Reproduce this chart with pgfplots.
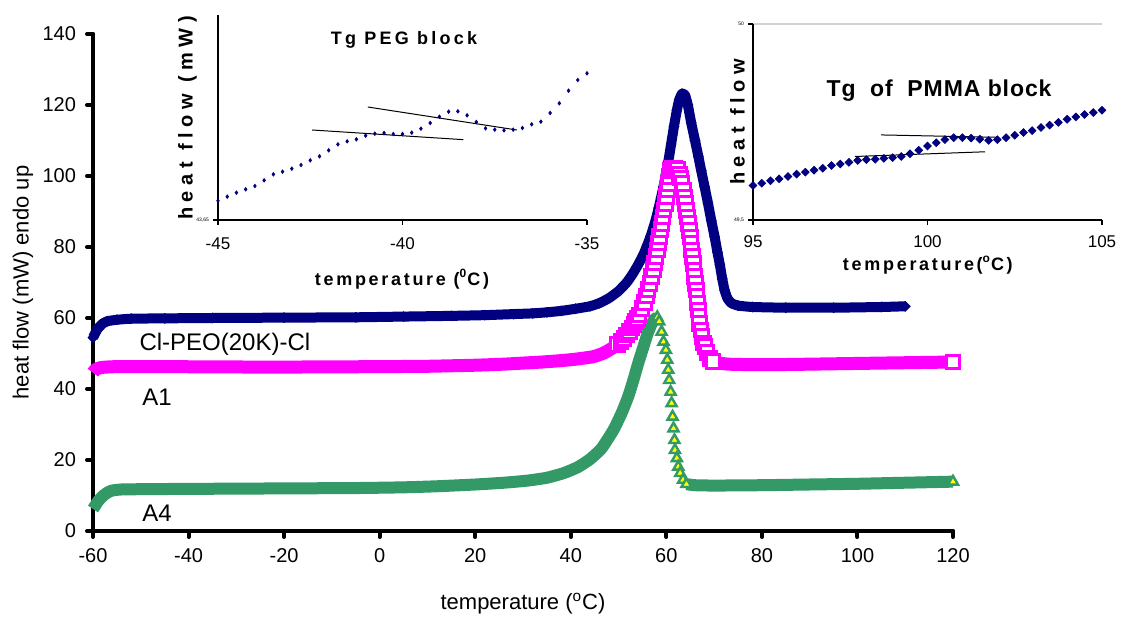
\documentclass[border=0pt]{standalone}
\usepackage{pgfplots}
\pgfplotsset{compat=1.18}
\usepackage{pgfplotstable}
\usepackage{fontspec}
\setmainfont{Liberation Sans}
\newfontfamily\spA[LetterSpace=15]{Liberation Sans}
\newfontfamily\spB[LetterSpace=28]{Liberation Sans}
\newfontfamily\spC[LetterSpace=4]{Liberation Sans}
\newfontfamily\spD[LetterSpace=18]{Liberation Sans}

\definecolor{navyc}{RGB}{0,0,128}
\definecolor{pinkc}{RGB}{255,0,255}
\definecolor{greenc}{RGB}{51,153,102}
\definecolor{yellowc}{RGB}{255,255,0}

% Cl-PEO(20K)-Cl
\pgfplotstableread{
x y
-60 54.5
-59.5 55.8
-59 57.0
-58 58.4
-57 59.1
-55 59.5
-52 59.8
-45 59.9
-35 60.0
-20 60.1
-5 60.2
5 60.4
15 60.6
22 60.8
28 61.1
32 61.3
35 61.6
38 62.0
41 62.6
44 63.3
46 64.2
48 65.6
50 67.6
51.7 70.0
52.8 72.1
53.8 74.3
54.6 76.3
55.3 78.2
56.0 80.5
56.7 83
57.3 85.5
57.9 88.3
58.4 91
58.9 94
59.4 97
59.9 100.5
60.4 104
61.0 109
61.6 114
62.2 118.5
62.7 121.5
63.3 123.2
63.9 122.8
64.5 120
65.2 115
66 110
66.7 105.5
67.3 101.5
68 97
68.7 92.4
69.4 87.5
70.1 82.9
70.7 78.5
71.2 75
71.7 71
72.2 67.8
72.8 65.5
73.6 64.2
75 63.5
78 63.1
85 62.9
95 62.9
105 63.1
110 63.3
}\navyT

% A1
\pgfplotstableread{
x y
-60 44.6
-59.6 45.3
-59 45.8
-58 46.1
-55 46.3
-45 46.3
-30 46.2
-15 46.2
0 46.3
10 46.4
20 46.7
26 47.0
30 47.3
34 47.6
38 48.0
41 48.4
44.7 49.1
47 50.2
48.9 51.7
50.5 53.3
51.7 55.2
52.8 57.2
}\pinkL
\pgfplotstableread{
x y
49.8 52.5
50.5 53.3
51.1 54.2
51.7 55.2
52.3 56.2
52.8 57.2
53.2 58.1
53.6 59.0
54.0 59.9
54.3 60.8
54.9 62.6
55.4 64.4
55.8 66.2
56.2 68.0
56.6 69.8
56.95 71.7
57.25 73.6
57.55 75.5
57.8 77.4
58.1 79.2
58.35 81.1
58.6 83.0
58.85 84.9
59.1 86.7
59.3 88.5
59.55 90.4
59.8 92.3
60.0 94.2
60.25 96.1
60.5 97.9
60.7 99.8
60.9 101.5
61.3 102.3
61.8 102.3
62.3 102.0
62.7 100.5
63.0 99.4
63.3 97.9
63.55 96.0
63.8 94.1
64.0 92.2
64.2 90.3
64.4 88.5
64.6 86.6
64.8 84.7
65.0 82.8
65.15 81.0
65.3 79.2
65.5 77.3
65.65 75.4
65.8 73.5
65.95 71.7
66.1 69.8
66.25 67.9
66.4 66.0
66.55 64.2
66.7 62.3
66.8 60.4
67.0 58.5
67.25 56.6
67.5 54.8
67.8 53.0
68.1 51.9
68.5 50.2
69.1 48.6
69.8 47.8
120 47.6
}\pinkP
\pgfplotstableread{
x y
69.8 47.8
71 47.3
73 47.0
76 46.9
85 46.9
95 47.1
105 47.3
115 47.5
120 47.6
}\pinkR

% A4
\pgfplotstableread{
x y
-60 6.2
-59.5 7.2
-59 8.3
-58 9.8
-57 10.8
-56 11.4
-54 11.7
-48 11.8
-35 11.9
-20 12.0
-5 12.1
5 12.3
12 12.6
20 13.1
26 13.6
31 14.2
35 15.0
38.5 16.3
41.5 18.0
44 20.2
46.4 23.2
48.9 28.4
50.6 33.1
52.0 37.8
53.1 42.5
54.1 47.2
55.2 51.9
56.0 55.3
56.8 58.0
57.5 59.6
58.1 60.2
}\greenL
\pgfplotstableread{
x y
58.1 60.2
58.5 59.0
59.0 56.1
59.4 53.3
59.9 51.0
60.2 48.2
60.4 45.4
60.6 42.5
60.9 39.2
61.1 36.0
61.3 32.2
61.5 28.9
61.7 25.6
61.8 22.8
62.2 20.5
62.5 18.1
62.9 16.3
63.5 14.4
64.2 13.2
120 13.9
}\greenP
\pgfplotstableread{
x y
64.2 13.2
66 12.9
70 12.8
80 12.9
90 13.1
100 13.3
110 13.6
120 13.9
}\greenR

% inset: Tg PEG block
\pgfplotstableread{
x y
-45.00 43.6790
-44.75 43.6850
-44.50 43.6910
-44.25 43.6960
-44.00 43.7010
-43.75 43.7095
-43.50 43.7185
-43.25 43.7225
-43.00 43.7270
-42.75 43.7325
-42.50 43.7395
-42.25 43.7455
-42.00 43.7545
-41.75 43.7635
-41.50 43.7680
-41.25 43.7710
-41.00 43.7765
-40.75 43.7795
-40.50 43.7805
-40.25 43.7790
-40.00 43.7790
-39.75 43.7810
-39.50 43.7870
-39.25 43.7955
-39.00 43.8050
-38.75 43.8125
-38.50 43.8130
-38.25 43.8070
-38.00 43.7970
-37.75 43.7875
-37.50 43.7855
-37.25 43.7845
-37.00 43.7855
-36.75 43.7880
-36.50 43.7935
-36.25 43.7975
-36.00 43.8105
-35.75 43.8250
-35.50 43.8440
-35.25 43.8600
-35.00 43.8700
}\pegT

% inset: Tg of PMMA block
\pgfplotstableread{
x y
95.00 49.588
95.25 49.594
95.50 49.600
95.75 49.605
96.00 49.611
96.25 49.617
96.50 49.622
96.75 49.627
97.00 49.632
97.25 49.639
97.50 49.643
97.75 49.647
98.00 49.652
98.25 49.654
98.50 49.655
98.75 49.657
99.00 49.659
99.25 49.662
99.50 49.669
99.75 49.678
100.00 49.689
100.25 49.697
100.50 49.705
100.75 49.710
101.00 49.710
101.25 49.709
101.50 49.706
101.75 49.703
102.00 49.705
102.25 49.710
102.50 49.716
102.75 49.723
103.00 49.728
103.25 49.736
103.50 49.742
103.75 49.749
104.00 49.757
104.25 49.763
104.50 49.769
104.75 49.774
105.00 49.780
}\pmmaT

\begin{document}
\begin{tikzpicture}
\useasboundingbox (0,0) rectangle (564pt,310.5pt);

% ---------------- main axis ----------------
\begin{axis}[
  at={(46.5pt,45pt)}, anchor=south west, scale only axis,
  width=430pt, height=248.5pt,
  xmin=-60, xmax=120, ymin=0, ymax=140,
  axis x line=bottom, axis y line=left,
  axis line style={line width=2pt, -, line cap=round},
  xtick={-60,-40,...,120}, ytick={0,20,...,140},
  tick align=outside, major tick length=3pt,
  tick style={line width=2pt, black, line cap=round},
  ticklabel style={font=\fontsize{10}{12}\selectfont},
  xticklabel style={yshift=-2pt},
  yticklabel style={xshift=-2pt},
  /pgf/number format/assume math mode=true,
  xlabel={temperature (\textsuperscript{o}C)},
  ylabel={heat flow (mW) endo up},
  label style={font=\fontsize{11}{13}\selectfont},
  xlabel style={at={(axis description cs:0.5,-0.146)}, anchor=center},
  ylabel style={at={(axis description cs:-0.0814,0.5)}, anchor=center},
  clip=false,
]
\addplot[navyc, line width=5pt, line join=round, smooth, tension=0.3,
  mark=square*, mark size=1.8pt, mark options={rotate=45, fill=navyc, draw=navyc, line width=0.3pt}]
  table {\navyT};

\addplot[pinkc, line width=6.5pt, line join=round, smooth, tension=0.3] table {\pinkL};
\addplot[pinkc, line width=6.5pt, line join=round, smooth, tension=0.3] table {\pinkR};
\addplot[only marks, mark=square*, mark size=3.4pt,
  mark options={fill=white, draw=pinkc, line width=1.5pt}] table {\pinkP};

\addplot[greenc, line width=6pt, line join=round, smooth, tension=0.3] table {\greenL};
\addplot[greenc, line width=6pt, line join=round, smooth, tension=0.3] table {\greenR};
\addplot[only marks, mark=triangle*, mark size=2.9pt,
  mark options={fill=yellowc, draw=greenc, line width=1.2pt}] table {\greenP};

\node[font=\fontsize{12}{14}\selectfont] at (axis cs:-32.4,52.7) {Cl-PEO(20K)-Cl};
\node[font=\fontsize{12}{14}\selectfont] at (axis cs:-46.6,37.7) {A1};
\node[font=\fontsize{12}{14}\selectfont] at (axis cs:-46.6,5.1) {A4};
\end{axis}

% ---------------- inset 1 ----------------
\begin{axis}[
  at={(109pt,200.5pt)}, anchor=south west, scale only axis,
  width=184.5pt, height=102.5pt,
  xmin=-45, xmax=-35, ymin=43.65, ymax=43.9575,
  axis x line=bottom, axis y line=left,
  axis line style={line width=0.6pt, -},
  xtick={-45,-40,-35}, ytick={43.65}, yticklabels={43{,}65},
  tick align=outside, major tick length=2.5pt,
  tick style={line width=0.6pt, black},
  xticklabel style={font=\fontsize{8.5}{10}\selectfont, yshift=-3pt},
  yticklabel style={font=\fontsize{2.5}{3}\selectfont, xshift=1.5pt},
  /pgf/number format/assume math mode=true,
  clip=false,
]
\addplot[only marks, mark=diamond*, mark size=0.85pt, navyc] table {\pegT};
\addplot[black, line width=0.5pt] coordinates {(-42.45,43.7850) (-38.35,43.7705)};
\addplot[black, line width=0.5pt] coordinates {(-40.94,43.8195) (-36.90,43.7850)};
\node[font=\spD\bfseries\fontsize{9}{11}\selectfont] at (axis description cs:0.504,0.880) {Tg PEG block};
\node[font=\spB\bfseries\fontsize{10}{12}\selectfont, rotate=90] at (axis description cs:-0.0827,0.4976) {heat flow (mW)};
\node[font=\spA\bfseries\fontsize{9}{11}\selectfont] at (axis description cs:0.4986,-0.29) {temperature (\textsuperscript{0}C)};
\end{axis}

% ---------------- inset 2 ----------------
\begin{axis}[
  at={(376.5pt,200.5pt)}, anchor=south west, scale only axis,
  width=174.5pt, height=98pt,
  xmin=95, xmax=105, ymin=49.5, ymax=50,
  axis x line=bottom, axis y line=left,
  axis line style={line width=0.6pt, -},
  xtick={95,100,105}, ytick={49.5,50}, yticklabels={49{,}5,50},
  ymajorgrids, grid style={gray!35, line width=0.6pt},
  tick align=outside, major tick length=2.5pt,
  tick style={line width=0.6pt, black},
  xticklabel style={font=\fontsize{8.5}{10}\selectfont, yshift=-2pt},
  yticklabel style={font=\fontsize{2.5}{3}\selectfont, xshift=1.5pt},
  /pgf/number format/assume math mode=true,
  clip=false,
]
\addplot[only marks, mark=square*, mark size=1.35pt, mark options={rotate=45}, navyc] table {\pmmaT};
\addplot[black, line width=0.5pt] coordinates {(97.92,49.662) (101.65,49.674)};
\addplot[black, line width=0.5pt] coordinates {(98.67,49.717) (101.99,49.711)};
\node[font=\spC\bfseries\fontsize{11.5}{13}\selectfont] at (axis description cs:0.533,0.658) {Tg\ \ of\ \ PMMA block};
\node[font=\spB\bfseries\fontsize{10}{12}\selectfont, rotate=90] at (axis description cs:-0.0444,0.5) {heat flow};
\node[font=\spA\bfseries\fontsize{9}{11}\selectfont] at (axis description cs:0.501,-0.2296) {temperature(\textsuperscript{o}C)};
\end{axis}
\end{tikzpicture}
\end{document}
